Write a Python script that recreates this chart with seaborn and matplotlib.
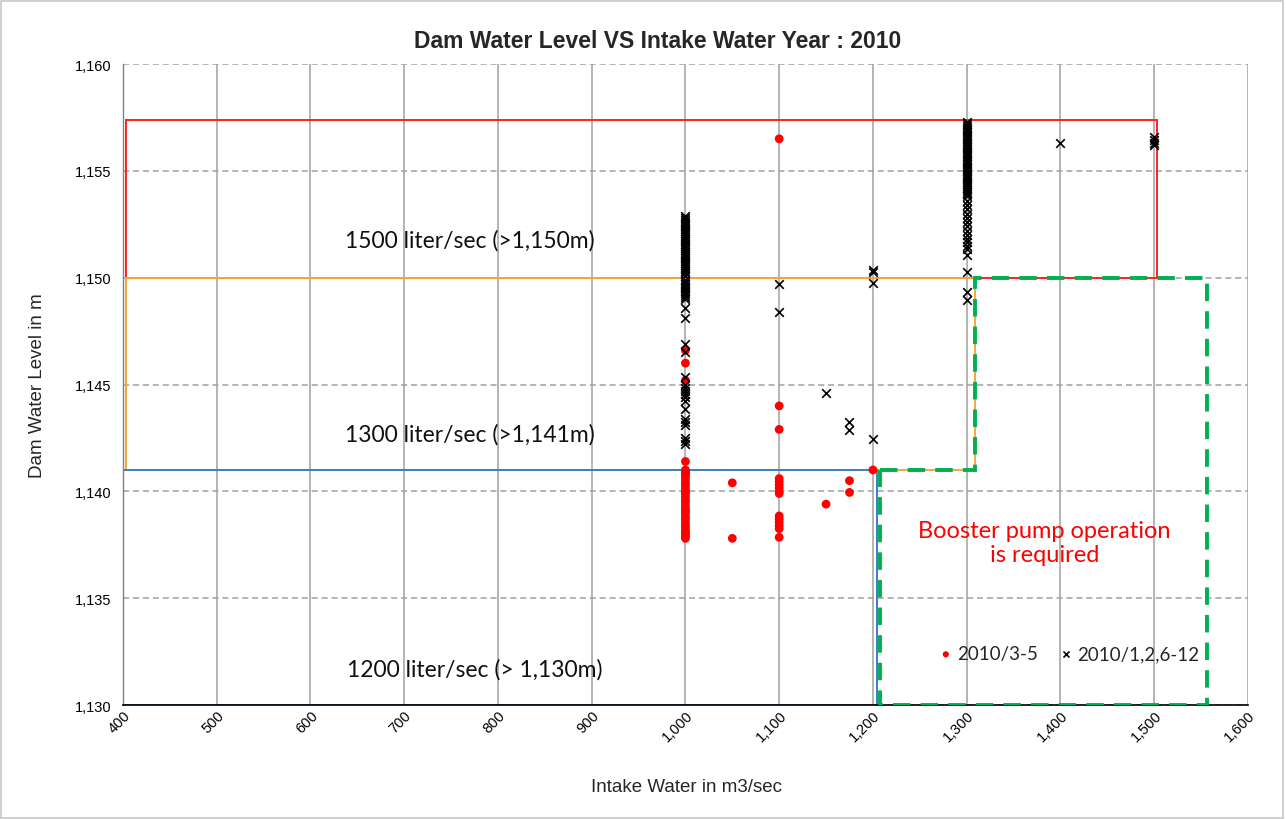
import numpy as np
import pandas as pd
import matplotlib
matplotlib.use("Agg")
import matplotlib.pyplot as plt
import seaborn as sns
from matplotlib.patches import Rectangle, Polygon
from matplotlib.ticker import FuncFormatter

# ---------------- data ----------------
title = "Dam Water Level VS Intake Water Year : 2010"
xlabel = "Intake Water in m3/sec"
ylabel = "Dam Water Level in m"

red_label = "2010/3-5"
red_x = ([1000] * 34 + [1050] * 2 + [1100] * 15 + [1150] + [1175] * 2 + [1200])
red_y = [1146.6, 1146.0, 1145.2, 1141.4,
         1141.0, 1140.9, 1140.8, 1140.7, 1140.55, 1140.4, 1140.3, 1140.15, 1140.0, 1139.9,
         1139.75, 1139.6, 1139.5, 1139.35, 1139.2, 1139.1, 1138.95, 1138.8, 1138.7, 1138.55,
         1138.4, 1138.3, 1138.15, 1138.0, 1137.9, 1137.8, 1140.85, 1139.95, 1139.05, 1138.1,
         1140.4, 1137.8,
         1156.5, 1144.0, 1142.9, 1140.6, 1140.45, 1140.3, 1140.15, 1140.0, 1139.9,
         1138.85, 1138.7, 1138.55, 1138.4, 1138.25, 1137.85,
         1139.4,
         1140.5, 1139.95,
         1141.0]

black_label = "2010/1,2,6-12"
black_1000 = [1152.9, 1152.8, 1152.7, 1152.6, 1152.5, 1152.4, 1152.3, 1152.2, 1152.1, 1152.0,
              1151.9, 1151.8, 1151.7, 1151.6, 1151.5, 1151.4, 1151.3, 1151.2, 1151.1, 1151.0,
              1150.9, 1150.8, 1150.7, 1150.6, 1150.5, 1150.4, 1150.3, 1150.2, 1150.1, 1149.9,
              1149.8, 1149.7, 1149.6, 1149.5, 1149.4, 1149.3, 1149.2, 1149.1, 1149.0,
              1148.6, 1148.1, 1146.9, 1146.5, 1145.35, 1145.0, 1144.85, 1144.7, 1144.55,
              1144.4, 1144.25, 1143.85, 1143.4, 1143.25, 1143.1, 1142.5, 1142.35, 1142.2]
black_1100 = [1149.7, 1148.4]
black_1150 = [1144.6]
black_1175 = [1143.25, 1142.85]
black_1200 = [1150.35, 1150.25, 1149.75, 1142.45]
black_1300 = [1157.3, 1157.2, 1157.1, 1157.0, 1156.9, 1156.8, 1156.7, 1156.6, 1156.5, 1156.4,
              1156.3, 1156.2, 1156.1, 1156.0, 1155.9, 1155.8, 1155.7, 1155.6, 1155.5, 1155.4,
              1155.3, 1155.2, 1155.1, 1155.0, 1154.9, 1154.8, 1154.7, 1154.6, 1154.5, 1154.4,
              1154.3, 1154.2, 1154.1, 1154.0, 1153.9, 1153.8,
              1153.6, 1153.4, 1153.2, 1153.0, 1152.8, 1152.6, 1152.4, 1152.2, 1152.0, 1151.8,
              1151.65, 1151.5, 1151.35, 1151.05, 1150.25, 1149.35, 1148.95]
black_1400 = [1156.3]
black_1500 = [1156.6, 1156.45, 1156.3, 1156.2]

black_x = ([1000] * len(black_1000) + [1100] * len(black_1100) + [1150] * len(black_1150)
           + [1175] * len(black_1175) + [1200] * len(black_1200) + [1300] * len(black_1300)
           + [1400] * len(black_1400) + [1500] * len(black_1500))
black_y = black_1000 + black_1100 + black_1150 + black_1175 + black_1200 + black_1300 + black_1400 + black_1500

# operating zones: (x0, x1, y0, y1)
zone_1500 = (403, 1503, 1150, 1157.4)
zone_1300 = (403, 1309, 1141, 1150)
zone_1200 = (400, 1204, 1130, 1141)
zone_labels = ["1500 liter/sec (>1,150m)", "1300 liter/sec (>1,141m)", "1200 liter/sec (> 1,130m)"]
zone_label_pos = [(770, 1151.75), (770, 1142.7), (775, 1131.7)]
booster_x = [1208, 1309, 1309, 1556, 1556, 1208]
booster_y = [1141, 1141, 1150, 1150, 1130, 1130]
booster_text = "Booster pump operation\nis required"
booster_text_pos = (1383, 1137.6)

x_ticks = list(range(400, 1601, 100))
y_ticks = list(range(1130, 1161, 5))

# ---------------- plotting ----------------
sns.set_theme(style="white")
plt.rcParams['font.family'] = ['Liberation Sans', 'DejaVu Sans']

fig = plt.figure(figsize=(12.86, 8.20), dpi=100)
ax = fig.add_axes([0.0956, 0.139, 0.8748, 0.7817])

# grid
for xv in x_ticks:
    ax.axvline(xv, color="#a0a0a0", lw=1.1, zorder=0)
for yv in y_ticks:
    ax.axhline(yv, color="#a0a0a0", lw=1.1, ls=(0, (4, 2.5)), zorder=0)

# zones
zone_colors = ["#ff2020", "#f5a83a", "#3a7fc2"]
for z, c in zip([zone_1500, zone_1300, zone_1200], zone_colors):
    ax.add_patch(Rectangle((z[0], z[2]), z[1] - z[0], z[3] - z[2], fill=False,
                           edgecolor=c, lw=1.4, zorder=2))
ax.add_patch(Polygon(np.column_stack([booster_x, booster_y]), closed=True, fill=False,
                     edgecolor="#00b050", lw=2.8, ls=(0, (4.5, 2.6)), zorder=3))

df_red = pd.DataFrame({"x": red_x, "y": red_y})
df_black = pd.DataFrame({"x": black_x, "y": black_y})
sns.scatterplot(data=df_red, x="x", y="y", ax=ax, color="#ff0000", marker="o", s=40,
                edgecolor="none", label=red_label, zorder=4)
sns.scatterplot(data=df_black, x="x", y="y", ax=ax, color="black", marker="x", s=38,
                linewidth=1.2, label=black_label, zorder=5)

for t, (px, py) in zip(zone_labels, zone_label_pos):
    ax.text(px, py, t, ha="center", va="center", fontsize=16.5, family=["Lato", "DejaVu Sans"],
            color="#111111", zorder=6)
ax.text(booster_text_pos[0], booster_text_pos[1], booster_text, ha="center", va="center",
        multialignment="center", fontsize=17, color="#ff0000", family=["Lato", "DejaVu Sans"],
        linespacing=1.15, zorder=6)

ax.set_xlim(400, 1600)
ax.set_ylim(1130, 1160)
ax.set_xticks(x_ticks)
ax.set_yticks(y_ticks)
fmt = FuncFormatter(lambda v, p: f"{int(v):,}")
ax.xaxis.set_major_formatter(fmt)
ax.yaxis.set_major_formatter(fmt)
plt.setp(ax.get_xticklabels(), rotation=45, ha="right", rotation_mode="anchor")
ax.tick_params(axis="x", direction="in", length=5, width=1, colors="black", labelsize=10.5, pad=2)
ax.tick_params(axis="y", direction="out", length=4, width=1, color="#808080", labelsize=10.5, pad=4,
               labelcolor="black")
ax.tick_params(axis="x", labelcolor="black")

for side in ["top", "right"]:
    ax.spines[side].set_visible(False)
ax.spines["left"].set_color("#808080")
ax.spines["bottom"].set_color("black")
ax.spines["left"].set_linewidth(1)
ax.spines["bottom"].set_linewidth(1.2)
ax.set_xlabel("")
ax.set_ylabel("")

leg = ax.legend(loc="center", bbox_to_anchor=(0.84, 0.08), ncol=2, frameon=False,
                prop={"family": ["Lato", "DejaVu Sans"], "size": 13.5}, handletextpad=0.1,
                columnspacing=1.0, markerscale=0.7, handlelength=1.0)

fig.text(0.511, 0.949, title, ha="center", va="center", fontsize=16.5, fontweight="bold")
fig.text(0.534, 0.040, xlabel, ha="center", va="center", fontsize=13.5)
fig.text(0.029, 0.53, ylabel, ha="center", va="center", fontsize=13.5, rotation=90)

fig.patches.append(Rectangle((0.001, 0.001), 0.997, 0.997, transform=fig.transFigure,
                             fill=False, edgecolor="#c8c8c8", lw=1.2, zorder=10))

fig.savefig("out.png", dpi=100)
